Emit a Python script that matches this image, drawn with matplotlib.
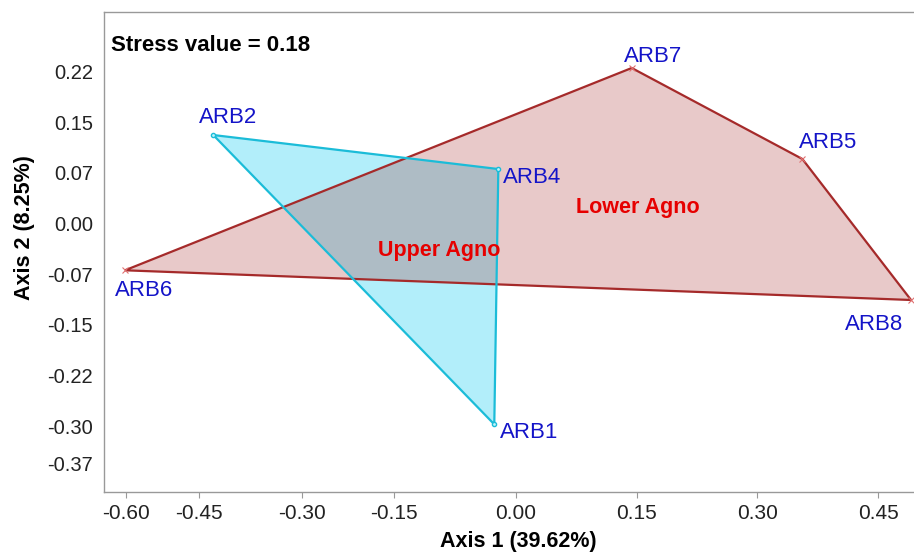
#NMDS ordination plot of the Agno river sites
#Convex hulls for Upper and Lower Agno groups

import numpy as np
import matplotlib.pyplot as plt
from matplotlib.patches import Polygon

plt.rcParams['font.family'] = ['Liberation Sans', 'DejaVu Sans']

#Site names and their coordinates on axis 1 and axis 2
sites = ['ARB1', 'ARB2', 'ARB4', 'ARB5', 'ARB6', 'ARB7', 'ARB8']
axis1 = [-0.0263, -0.3745, -0.0213, 0.3554, -0.4839, 0.1440, 0.4901]
axis2 = [-0.2975, 0.1311, 0.0807, 0.0956, -0.0693, 0.2304, -0.1133]

#Hull vertex order for each group
upper_sites = ['ARB2', 'ARB4', 'ARB1']
lower_sites = ['ARB6', 'ARB7', 'ARB5', 'ARB8']

#Tick labels (the left x ticks are unevenly spaced in the original)
xtick_pos = [-0.4830, -0.3918, -0.2642, -0.1502, 0.0, 0.1502, 0.2996, 0.4496]
xtick_labels = ['-0.60', '-0.45', '-0.30', '-0.15', '0.00', '0.15', '0.30', '0.45']
ytick_pos = [0.225, 0.15, 0.075, 0.0, -0.075, -0.15, -0.225, -0.30, -0.355]
ytick_labels = ['0.22', '0.15', '0.07', '0.00', '-0.07', '-0.15', '-0.22', '-0.30', '-0.37']

stress = 0.18

#Label offsets in pixels (dx, dy, ha) for each site
offsets = {'ARB1': (6, -8, 'left'), 'ARB2': (-14, 18, 'left'), 'ARB4': (5, -8, 'left'),
           'ARB5': (-3, 16, 'left'), 'ARB6': (-10, -20, 'left'), 'ARB7': (-8, 11, 'left'),
           'ARB8': (-8, -25, 'right')}

pos = {s: (x, y) for s, x, y in zip(sites, axis1, axis2)}
upper = np.array([pos[s] for s in upper_sites])
lower = np.array([pos[s] for s in lower_sites])

fig = plt.figure(figsize=(9.14, 5.53), dpi=100)
ax = fig.add_axes([104/914, 61.5/553, 811/914, 479.2/553])

#Fill the cyan hull first, then the red one on top, then the edges
ax.add_patch(Polygon(upper, closed=True, facecolor='#00C8F0', alpha=0.3, edgecolor='none'))
ax.add_patch(Polygon(lower, closed=True, facecolor='#A52A2A', alpha=0.25, edgecolor='none'))
ax.add_patch(Polygon(lower, closed=True, fill=False, edgecolor='#A52A2A', linewidth=1.6, clip_on=False))
ax.add_patch(Polygon(upper, closed=True, fill=False, edgecolor='#1BBCD8', linewidth=1.6))

#Points
ax.plot(lower[:, 0], lower[:, 1], 'x', color='#E07070', markersize=4, markeredgewidth=0.8, clip_on=False)
ax.plot(upper[:, 0], upper[:, 1], 'o', color='#1BBCD8', markersize=3, markerfacecolor='#BFF4FC')

#Site labels
for s in sites:
    dx, dy, ha = offsets[s]
    ax.annotate(s, pos[s], xytext=(dx, dy), textcoords='offset pixels',
                ha=ha, va='center', fontsize=16, color='#1414C8')

#Group names and stress value
ax.text(-0.0948, -0.0393, 'Upper Agno', color='#E60000', fontsize=15.5, fontweight='bold',
        ha='center', va='center')
ax.text(0.1518, 0.023, 'Lower Agno', color='#E60000', fontsize=15.5, fontweight='bold',
        ha='center', va='center')
ax.text(0.009, 0.93, 'Stress value = %.2f' % stress, transform=ax.transAxes,
        fontsize=16, fontweight='bold', ha='left', va='center')

#Axis limits, ticks and labels
ax.set_xlim(-0.5099, 0.4950)
ax.set_ylim(-0.3970, 0.3129)
ax.set_xticks(xtick_pos)
ax.set_xticklabels(xtick_labels)
ax.set_yticks(ytick_pos)
ax.set_yticklabels(ytick_labels)
ax.tick_params(axis='x', length=4, color='#999999', labelsize=15, pad=5, labelcolor='#222222')
ax.tick_params(axis='y', length=0, labelsize=14.5, pad=8, labelcolor='#222222')
for sp in ax.spines.values():
    sp.set_color('#999999')
    sp.set_linewidth(1)

ax.set_xlabel('Axis 1 (39.62%)', fontsize=15.5, fontweight='bold')
ax.set_ylabel('Axis 2 (8.25%)', fontsize=15.5, fontweight='bold')
ax.xaxis.set_label_coords(0.511, -0.083)
ax.yaxis.set_label_coords(-0.085, 0.55)

plt.savefig('out.png', dpi=100)
